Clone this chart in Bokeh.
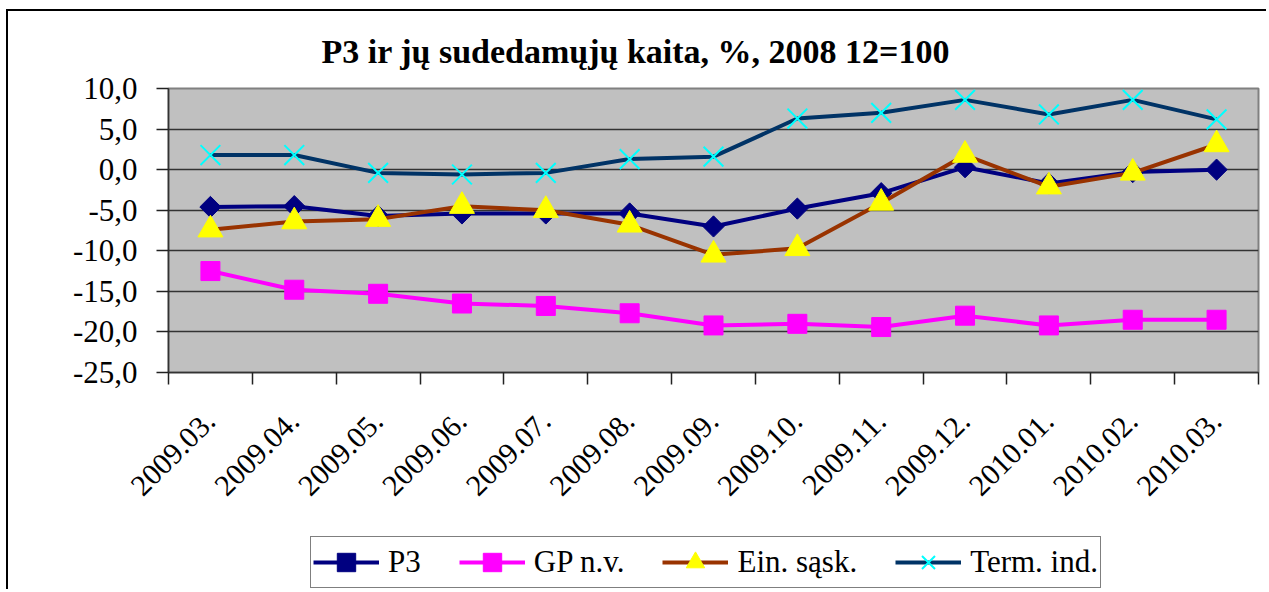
import numpy as np
from bokeh.plotting import figure
from bokeh.layouts import column
from bokeh.models import Range1d, FixedTicker, Legend, LegendItem
from bokeh.embed import file_html
from bokeh.resources import INLINE

# ---- data ----
months = ["2009.03.", "2009.04.", "2009.05.", "2009.06.", "2009.07.", "2009.08.",
          "2009.09.", "2009.10.", "2009.11.", "2009.12.", "2010.01.", "2010.02.", "2010.03."]
p3_vals = [-4.6, -4.5, -5.7, -5.4, -5.4, -5.4, -7.0, -4.8, -2.9, 0.3, -1.7, -0.3, 0.0]
gp_vals = [-12.5, -14.8, -15.3, -16.5, -16.8, -17.7, -19.2, -19.0, -19.4, -18.0, -19.2, -18.5, -18.5]
ein_vals = [-7.4, -6.4, -6.1, -4.5, -5.0, -6.8, -10.5, -9.7, -4.1, 1.8, -2.1, -0.4, 3.1]
term_vals = [1.8, 1.8, -0.4, -0.6, -0.4, 1.3, 1.6, 6.3, 7.0, 8.6, 6.8, 8.6, 6.2]
series_names = ["P3", "GP n.v.", "Ein. sąsk.", "Term. ind."]
y_ticks = [-25, -20, -15, -10, -5, 0, 5, 10]
title_text = "P3 ir jų sudedamųjų kaita, %, 2008 12=100"

FONT = "Liberation Serif"

n = len(months)
xc = [i + 0.5 for i in range(n)]          # category centres
edges = list(range(n + 1))                # category boundaries

# series styles
styles = [
    dict(line="#000080", marker="square", size=15, fill="#000080", mline="#000080", angle=np.pi / 4, mlw=1),
    dict(line="#FF00FF", marker="square", size=19, fill="#FF00FF", mline="#FF00FF", angle=0.0, mlw=1),
    dict(line="#993300", marker="triangle", size=25, fill="#FFFF00", mline="#FFFF00", angle=0.0, mlw=1),
    dict(line="#003366", marker="x", size=28, fill=None, mline="#00FFFF", angle=0.0, mlw=2),
]
LW = 4

p = figure(width=1258, height=525,
           x_range=Range1d(0, n), y_range=Range1d(-25, 10),
           output_backend="svg", toolbar_location=None,
           min_border_left=160, min_border_top=77,
           min_border_right=8, min_border_bottom=164)

p.background_fill_color = "#C0C0C0"
p.border_fill_color = "white"
p.outline_line_color = "#808080"
p.outline_line_width = 2

# title
p.title.text = title_text
p.title.text_font = FONT
p.title.text_font_size = "34px"
p.title.text_font_style = "bold"
p.title.text_color = "black"
p.title.align = "left"
p.title.offset = 153
p.title.standoff = 37

# y axis
yax = p.yaxis[0]
yax.ticker = FixedTicker(ticks=y_ticks)
yax.major_label_overrides = {t: f"{t:.1f}".replace(".", ",") for t in y_ticks}
yax.major_label_text_font = FONT
yax.major_label_text_font_size = "31px"
yax.major_label_text_color = "black"
yax.major_tick_out = 12
yax.major_tick_in = 0
yax.minor_tick_out = 0
yax.minor_tick_in = 0
yax.major_tick_line_color = "#222222"
yax.major_tick_line_width = 1.5
yax.axis_line_color = "#333333"
yax.axis_line_width = 1.5
yax.major_label_standoff = 19

p.ygrid.grid_line_color = "#333333"
p.ygrid.grid_line_width = 1.5
p.xgrid.visible = False

# x axis: labels at centres, ticks at boundaries
xax = p.xaxis[0]
xax.ticker = FixedTicker(ticks=xc, minor_ticks=edges)
xax.major_label_overrides = {c: m for c, m in zip(xc, months)}
xax.major_label_orientation = np.pi / 4
xax.major_label_text_font = FONT
xax.major_label_text_font_size = "30px"
xax.major_label_text_color = "black"
xax.major_label_standoff = 32
xax.major_tick_out = 0
xax.major_tick_in = 0
xax.minor_tick_out = 12
xax.minor_tick_in = 0
xax.minor_tick_line_color = "#222222"
xax.minor_tick_line_width = 1.5
xax.axis_line_color = "#333333"
xax.axis_line_width = 1.5

# series
for vals, st in zip([p3_vals, gp_vals, ein_vals, term_vals], styles):
    p.line(xc, vals, line_color=st["line"], line_width=LW, line_join="round")
    p.scatter(xc, vals, marker=st["marker"], angle=st["angle"], size=st["size"],
              fill_color=st["fill"], line_color=st["mline"], line_width=st["mlw"])

# legend strip (separate small figure so the box is not clipped by the plot frame)
lg = figure(width=1258, height=53, x_range=Range1d(0, 1), y_range=Range1d(0, 1),
            output_backend="svg", toolbar_location=None,
            x_axis_location=None, y_axis_location=None,
            min_border_left=0, min_border_right=0,
            min_border_top=0, min_border_bottom=0)
lg.outline_line_color = None
lg.background_fill_color = "white"
lg.border_fill_color = "white"
lg.xgrid.visible = False
lg.ygrid.visible = False

# legend proxies: one point each, outside the visible range
items = []
for name, st in zip(series_names, styles):
    rl = lg.line(x=[-5, -4], y=[-5, -5], line_color=st["line"], line_width=LW)
    rm = lg.scatter(x=[-5], y=[-5], marker=st["marker"], angle=st["angle"], size=st["size"],
                    fill_color=st["fill"], line_color=st["mline"], line_width=st["mlw"])
    items.append(LegendItem(label=name, renderers=[rl, rm]))

legend = Legend(items=items, location=(142, 1), orientation="horizontal")
legend.label_text_font = FONT
legend.label_text_font_size = "31px"
legend.label_text_color = "black"
legend.glyph_width = 66
legend.glyph_height = 46
legend.label_standoff = 9
legend.spacing = 38
legend.padding = 2
legend.margin = 0
legend.border_line_color = "black"
legend.border_line_width = 1.5
legend.background_fill_color = "white"
legend.background_fill_alpha = 1.0
lg.add_layout(legend)

layout = column(p, lg, spacing=0)
layout.styles = {"margin-left": "6px", "margin-top": "9px",
                 "border-top": "2px solid black", "border-left": "2px solid black"}

open("out.html", "w").write(file_html(layout, INLINE))
